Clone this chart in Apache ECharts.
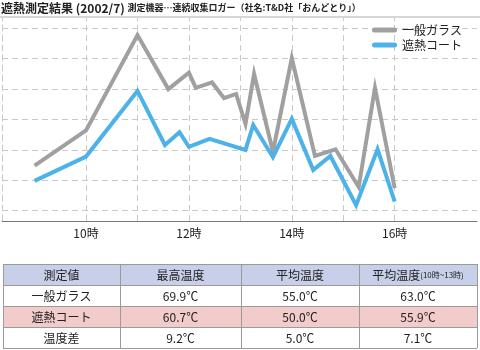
<!DOCTYPE html>
<html><head><meta charset="utf-8">
<script src="https://cdn.jsdelivr.net/npm/echarts@6/dist/echarts.min.js"></script>
<style>html,body{margin:0;padding:0;background:#fff}#c{width:480px;height:350px}</style>
</head><body><div id="c"></div>
<script>
// ---- data ----
const glassTimes  = ['9:00','10:00','11:00','11:36','12:00','12:08','12:27','12:41','12:55','13:06','13:16','13:38','14:00','14:27','14:51','15:18','15:37','16:00'];
const glassValues = [48.4, 54.2, 69.9, 61.0, 63.7, 61.2, 62.1, 59.5, 60.2, 55.3, 63.5, 50.7, 66.1, 50.0, 51.1, 44.9, 61.2, 44.7];
const coatTimes   = ['9:00','10:00','11:00','11:32','11:49','12:00','12:24','13:06','13:15','13:38','14:00','14:25','14:45','15:15','15:40','16:00'];
const coatValues  = [45.9, 49.9, 60.7, 51.8, 53.9, 51.5, 52.8, 51.0, 55.1, 49.8, 56.1, 47.7, 50.0, 41.9, 51.1, 42.5];
const seriesNames = ['一般ガラス','遮熱コート'];
const gridHours   = [10,11,12,13,14,15,16];
const labelHours  = [10,12,14,16];
const gridValues  = [41,46,51,56,61,66,71];
const titleMain   = '遮熱測定結果 (2002/7) ';
const titleSub    = '測定機器…連続収集ロガー（社名:T&D社「おんどとり」）';
const tableHeader = ['測定値','最高温度','平均温度','平均温度'];
const tableHeaderNote = ['','','','(10時~13時)'];
const tableRows = [
  ['一般ガラス','69.9℃','55.0℃','63.0℃'],
  ['遮熱コート','60.7℃','50.0℃','55.9℃'],
  ['温度差','9.2℃','5.0℃','7.1℃']
];

// ---- build ----
const FONT = '"Noto Sans CJK JP","Noto Sans",sans-serif';
const toMin = s => { const p = s.split(':'); return (+p[0]) * 60 + (+p[1]); };
const glassData = glassTimes.map((t, i) => [toMin(t), glassValues[i]]);
const coatData  = coatTimes.map((t, i) => [toMin(t), coatValues[i]]);
const labelMins = labelHours.map(h => h * 60);

// table layout
const colX = [3, 120, 241, 359, 477];
const rowY = [264, 285, 306, 327, 348];
const rowFill = [null, '#f2cbcb', null];
const g = [];
g.push({type:'line', shape:{x1:0,y1:17,x2:480,y2:17}, style:{stroke:'#c8c8c8', lineWidth:1.5}, silent:true});
g.push({type:'rect', shape:{x:colX[0], y:rowY[0], width:colX[4]-colX[0], height:rowY[1]-rowY[0]}, style:{fill:'#c8cfe8'}, silent:true});
tableRows.forEach((r, i) => {
  if (rowFill[i]) g.push({type:'rect', shape:{x:colX[0], y:rowY[i+1], width:colX[4]-colX[0], height:rowY[i+2]-rowY[i+1]}, style:{fill:rowFill[i]}, silent:true});
});
rowY.forEach(y => g.push({type:'line', shape:{x1:colX[0], y1:y+0.5, x2:colX[4], y2:y+0.5}, style:{stroke:'#9a9a9a', lineWidth:1}, silent:true}));
colX.forEach(x => g.push({type:'line', shape:{x1:x+0.5, y1:rowY[0], x2:x+0.5, y2:rowY[4]}, style:{stroke:'#9a9a9a', lineWidth:1}, silent:true}));
tableHeader.forEach((h, c) => {
  const cx = (colX[c] + colX[c+1]) / 2, cy = (rowY[0] + rowY[1]) / 2 + 0.5;
  g.push({type:'text', x:cx, y:cy, silent:true, style:{
    text: tableHeaderNote[c] ? '{n|' + h + '}{s|' + tableHeaderNote[c] + '}' : '{n|' + h + '}',
    align:'center', verticalAlign:'middle',
    rich:{ n:{fontSize:12, fontFamily:FONT, fill:'#222'}, s:{fontSize:8, fontFamily:FONT, fill:'#222'} }
  }});
});
tableRows.forEach((r, i) => {
  r.forEach((v, c) => {
    const cx = (colX[c] + colX[c+1]) / 2, cy = (rowY[i+1] + rowY[i+2]) / 2 + 0.5;
    g.push({type:'text', x:cx, y:cy, silent:true, style:{text:v, align:'center', verticalAlign:'middle', fontSize:12, fontFamily:FONT, fill:'#222'}});
  });
});

const chart = echarts.init(document.getElementById('c'), null, {renderer:'canvas'});
chart.setOption({
  animation:false,
  backgroundColor:'#fff',
  textStyle:{fontFamily:FONT},
  title:{
    text:'{a|' + titleMain + '}{b|' + titleSub + '}',
    left:1, top:0, padding:0,
    textStyle:{ rich:{
      a:{fontSize:12, fontWeight:'bold', fontFamily:FONT, color:'#222', lineHeight:16},
      b:{fontSize:9, fontWeight:'bold', fontFamily:FONT, color:'#222', lineHeight:16}
    }}
  },
  legend:{
    data:seriesNames, orient:'vertical', left:372, top:23, padding:0,
    itemWidth:25, itemHeight:5, itemGap:1,
    icon:'path://M2.5,0 L22.5,0 A2.5,2.5 0 0 1 22.5,5 L2.5,5 A2.5,2.5 0 0 1 2.5,0 Z',
    textStyle:{fontSize:12, color:'#222', fontFamily:FONT, lineHeight:14, padding:[0,0,0,0]}
  },
  grid:{left:2, right:3, top:18, bottom:129, containLabel:false},
  xAxis:{
    type:'value', min:502, max:1056, interval:2,
    axisLine:{show:true, lineStyle:{color:'#777', width:1}},
    axisTick:{show:false},
    splitLine:{show:false},
    axisLabel:{
      show:true, margin:6, fontSize:12, color:'#222', fontFamily:FONT,
      showMinLabel:false, showMaxLabel:false,
      formatter: v => { const r = Math.round(v); return labelMins.indexOf(r) >= 0 && Math.abs(v - r) < 1e-6 ? (r / 60) + '時' : ''; }
    }
  },
  yAxis:{
    type:'value', min:39.3, max:72.7,
    axisLine:{show:true, lineStyle:{color:'#c9c9c9', type:[6,4], width:1}},
    axisTick:{show:false}, axisLabel:{show:false}, splitLine:{show:false}
  },
  series:[
    {
      name:'grid', type:'line', data:[], z:1, silent:true,
      markLine:{
        silent:true, z:1, animation:false, symbol:['none','none'],
        label:{show:false},
        lineStyle:{color:'#c9c9c9', type:[6,4], width:1},
        emphasis:{disabled:true},
        data:[].concat(gridHours.map(h => ({xAxis:h * 60})), gridValues.map(v => ({yAxis:v})))
      }
    },
    {
      name:seriesNames[0], type:'line', data:glassData, z:3,
      symbol:'none', color:'#a0a0a0',
      lineStyle:{width:4, color:'#a0a0a0', join:'miter'}
    },
    {
      name:seriesNames[1], type:'line', data:coatData, z:4,
      symbol:'none', color:'#4cb2e8',
      lineStyle:{width:4, color:'#4cb2e8', join:'miter'}
    }
  ],
  graphic:g
});
</script>
</body></html>
